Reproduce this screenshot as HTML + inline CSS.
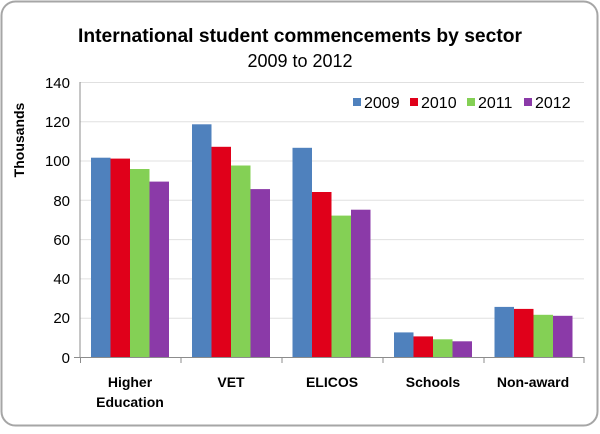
<!DOCTYPE html>
<html><head><style>body{margin:0;background:#fff}</style></head><body>
<svg width="600" height="429" xmlns="http://www.w3.org/2000/svg" font-family="Liberation Sans, sans-serif">
<rect x="1.5" y="1.5" width="596" height="424" rx="14" fill="#fff" stroke="#a6a6a6" stroke-width="2"/>
<text x="300" y="42" text-anchor="middle" font-size="19" font-weight="bold" fill="#000" textLength="444" lengthAdjust="spacingAndGlyphs">International student commencements by sector</text>
<text x="300" y="67" text-anchor="middle" font-size="18" fill="#000">2009 to 2012</text>
<g stroke="#e0e0e0" stroke-width="1">
<line x1="80" x2="584" y1="82.5" y2="82.5"/><line x1="80" x2="584" y1="121.8" y2="121.8"/>
<line x1="80" x2="584" y1="161" y2="161"/><line x1="80" x2="584" y1="200.3" y2="200.3"/>
<line x1="80" x2="584" y1="239.6" y2="239.6"/><line x1="80" x2="584" y1="278.9" y2="278.9"/>
<line x1="80" x2="584" y1="318.2" y2="318.2"/>
</g>
<g font-size="15" fill="#000" text-anchor="end">
<text x="70" y="88">140</text><text x="70" y="127">120</text><text x="70" y="166">100</text>
<text x="70" y="206">80</text><text x="70" y="245">60</text><text x="70" y="284">40</text>
<text x="70" y="323">20</text><text x="70" y="363">0</text>
</g>
<text transform="translate(24,140) rotate(-90)" text-anchor="middle" font-size="14" font-weight="bold">Thousands</text>
<g>
<rect x="91" y="157.7" width="19.5" height="199.3" fill="#4f81bd"/>
<rect x="110.5" y="158.6" width="19.5" height="198.4" fill="#e0001a"/>
<rect x="130" y="169" width="19.5" height="188" fill="#84d055"/>
<rect x="149.5" y="181.6" width="19.5" height="175.4" fill="#8b3aa8"/>
<rect x="192" y="124.3" width="19.5" height="232.7" fill="#4f81bd"/>
<rect x="211.5" y="146.8" width="19.5" height="210.2" fill="#e0001a"/>
<rect x="231" y="165.5" width="19.5" height="191.5" fill="#84d055"/>
<rect x="250.5" y="189.1" width="19.5" height="167.9" fill="#8b3aa8"/>
<rect x="292.5" y="147.8" width="19.5" height="209.2" fill="#4f81bd"/>
<rect x="312" y="192" width="19.5" height="165" fill="#e0001a"/>
<rect x="331.5" y="215.6" width="19.5" height="141.4" fill="#84d055"/>
<rect x="351" y="209.7" width="19.5" height="147.3" fill="#8b3aa8"/>
<rect x="394" y="332.4" width="19.5" height="24.6" fill="#4f81bd"/>
<rect x="413.5" y="336.4" width="19.5" height="20.6" fill="#e0001a"/>
<rect x="433" y="339.3" width="19.5" height="17.7" fill="#84d055"/>
<rect x="452.5" y="341.3" width="19.5" height="15.7" fill="#8b3aa8"/>
<rect x="494.5" y="306.9" width="19.5" height="50.1" fill="#4f81bd"/>
<rect x="514" y="308.9" width="19.5" height="48.1" fill="#e0001a"/>
<rect x="533.5" y="314.8" width="19.5" height="42.2" fill="#84d055"/>
<rect x="553" y="315.8" width="19.5" height="41.2" fill="#8b3aa8"/>
</g>
<g stroke="#8c8c8c" stroke-width="1">
<line x1="80" x2="80" y1="82" y2="357"/>
<line x1="74" x2="584" y1="357.5" y2="357.5"/>
<line x1="80.5" x2="80.5" y1="357" y2="363"/><line x1="181" x2="181" y1="357" y2="363"/>
<line x1="282" x2="282" y1="357" y2="363"/><line x1="383" x2="383" y1="357" y2="363"/>
<line x1="484" x2="484" y1="357" y2="363"/><line x1="584" x2="584" y1="357" y2="363"/>
</g>
<g font-size="14" font-weight="bold" text-anchor="middle" fill="#000">
<text x="130" y="387">Higher</text><text x="130" y="407">Education</text>
<text x="231" y="387">VET</text><text x="332" y="387">ELICOS</text>
<text x="433" y="387">Schools</text><text x="533" y="387">Non-award</text>
</g>
<g font-size="16" fill="#000">
<rect x="353" y="98" width="8" height="8" fill="#4f81bd"/><text x="364" y="108">2009</text>
<rect x="410" y="98" width="8" height="8" fill="#e0001a"/><text x="421" y="108">2010</text>
<rect x="467" y="98" width="8" height="8" fill="#84d055"/><text x="478" y="108">2011</text>
<rect x="524" y="98" width="8" height="8" fill="#8b3aa8"/><text x="535" y="108">2012</text>
</g>
</svg>
</body></html>
